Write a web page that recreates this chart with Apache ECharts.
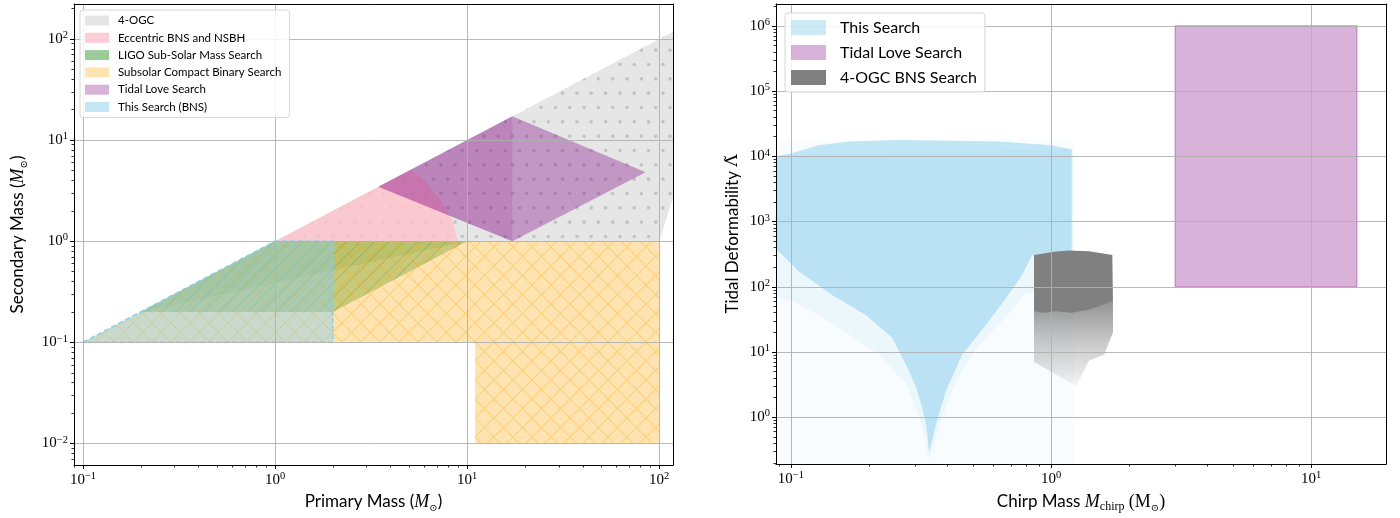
<!DOCTYPE html>
<html><head><meta charset="utf-8">
<script src="https://cdn.jsdelivr.net/npm/echarts@6/dist/echarts.min.js"></script>
<style>html,body{margin:0;padding:0;background:#fff}#c{width:1400px;height:518px}</style>
</head><body><div id="c"></div>
<script>
// ---------------- DATA ----------------
// Left panel: regions in (primary mass, secondary mass) plane [M_sun]
const ogcRegion        = [[1,1],[120,120],[120,3],[100,1]];
const eccentricRegion  = [[1,1],[5.05,5.05],[6,4],[7.2,2.6],[8.4,1.6],[8.9,1]];
const ligoRegionA      = [[0.2,0.2],[1,1],[10,1],[2,0.2]];
const ligoRegionB      = [[0.2,0.2],[1,1],[10,1]];
const subsolarRegionA  = [[0.1,0.1],[1,1],[100,1],[100,0.1]];
const subsolarRegionB  = [[11,0.01],[11,0.1],[100,0.1],[100,0.01]];
const tidalRegionA     = [[3.45,3.45],[17.2,17.2],[85,4.8],[17.2,1]];
const tidalRegionB     = [[3.45,3.45],[17.2,17.2],[17.2,1]];
const thisSearchRegion = [[0.1,0.1],[1,1],[2,1],[2,0.1]];

// Right panel: (chirp mass, tidal deformability)
const cloudFaint = [[0.0875,0.19],[0.0875,1.75e4],[1.22,1.75e4],[1.22,0.19]];
const cloudHalo  = [[0.0875,1e4],[0.0875,70],[0.107,55],[0.15,25],[0.22,9],[0.28,3],[0.32,0.7],[0.34,0.22],
                    [0.37,0.7],[0.43,3.5],[0.52,12],[0.66,32],[0.8,80],[1.22,80],[1.22,1.28e4]];
const cloudCore  = [[0.0868,1e4],[0.098,1.08e4],[0.107,1.2e4],[0.128,1.48e4],[0.167,1.69e4],[0.26,1.77e4],
                    [0.63,1.69e4],[1.0,1.48e4],[1.2,1.28e4],[1.2,272],[0.845,303],[0.774,150],[0.671,67],
                    [0.562,26],[0.455,9.1],[0.395,2.58],[0.361,0.78],[0.34,0.29],[0.331,0.78],[0.319,1.42],
                    [0.303,2.86],[0.277,6.4],[0.245,16.5],[0.194,37],[0.144,74.5],[0.107,173],[0.0899,348],[0.0868,387]];
const ogcBnsDense  = [[0.86,306],[1.045,346],[1.17,361],[1.40,350],[1.72,306],[1.73,60],[1.40,45],
                      [1.2,40],[1.045,42],[0.93,40],[0.86,42]];
const ogcBnsSparse = [[0.86,60],[1.73,60],[1.73,20],[1.6,9.1],[1.4,7.4],[1.25,3],[1.045,4.5],[0.86,7]];
const tidalRect    = [[3,100],[3,1e6],[15,1e6],[15,100]];

// Tick values
const leftXTicks  = [0.1,1,10,100];
const leftYTicks  = [0.01,0.1,1,10,100];
const rightXTicks = [0.1,1,10];
const rightYTicks = [1,10,100,1000,1e4,1e5,1e6];

// ---------------- helpers ----------------
function minorTicks(lo, hi){
  const out=[];
  for(let d=-4; d<=7; d++) for(let k=2;k<=9;k++){ const v=k*Math.pow(10,d); if(v>=lo && v<=hi) out.push(v); }
  return out;
}
function pattern(kind, color, W){
  const H = kind==='dots'?2*W:W;
  const c=document.createElement('canvas'); c.width=W; c.height=H;
  const g=c.getContext('2d');
  g.strokeStyle=color; g.fillStyle=color; g.lineWidth=1.1;
  if(kind==='dots'){
    const dx=W/3, dy=H/6;
    for(let r=0;r<6;r++) for(let k=-1;k<=3;k++){
      const x=k*dx+(r%2?dx/2:0)+dx/4, y=r*dy+dy/2;
      g.beginPath(); g.arc(x,y,1.8,0,Math.PI*2); g.fill();
    }
  } else {
    const s=W/3;
    g.beginPath();
    for(let k=-4;k<=6;k++){
      g.moveTo(k*s,H); g.lineTo(k*s+H,0);
      if(kind==='x'){ g.moveTo(k*s,0); g.lineTo(k*s+H,H); }
    }
    g.stroke();
  }
  return {image:c, repeat:'repeat'};
}
function regionSeries(name, axisIdx, legendColor, shapes, z){
  return {
    type:'custom', name, xAxisIndex:axisIdx, yAxisIndex:axisIdx, clip:true, silent:true, z: z||2,
    itemStyle:{color:legendColor},
    data: shapes.map(s=>s.pts[0]),
    renderItem:(params, api)=>{
      const s=shapes[params.dataIndex];
      const pts=s.pts.map(p=>api.coord(p));
      const ch=[{type:'polygon', shape:{points:pts}, style:{fill:s.fill, stroke:null}}];
      if(s.pattern) ch.push({type:'polygon', shape:{points:pts}, style:{fill:s.pattern, stroke:null}});
      if(s.stroke) ch.push({type:'polygon', shape:{points:pts}, style:{fill:null, stroke:s.stroke, lineWidth:s.lw||1, lineDash:s.dash||null}});
      return {type:'group', children:ch};
    }
  };
}
const serif='Liberation Serif';
const tickRich={
  b:{fontFamily:serif,fontSize:15,lineHeight:18,color:'#000'},
  s:{fontFamily:serif,fontSize:10.5,lineHeight:10,verticalAlign:'top',color:'#000'}
};
function powLabel(v){
  const e=Math.round(Math.log10(v));
  return '{b|10}{s|'+(e<0?'\u2212'+(-e):e)+'}';
}
const nameRich={
  mi:{fontFamily:serif,fontStyle:'italic',fontSize:18,lineHeight:22,color:'#000'},
  rm:{fontFamily:serif,fontSize:18,lineHeight:22,color:'#000'},
  sub:{fontFamily:'DejaVu Serif',fontSize:10,lineHeight:10,verticalAlign:'bottom',color:'#000'},
  sub2:{fontFamily:serif,fontSize:12,lineHeight:12,verticalAlign:'bottom',color:'#000'},
  m:{fontFamily:'DejaVu Serif',fontSize:17,lineHeight:22,color:'#000'}
};
function axesFor(gi, dir, min, max, ticks, nameCfg){
  const isX = dir==='x';
  const main={
    gridIndex:gi, type:'log', logBase:10, min, max, z:3,
    position: isX?'bottom':'left',
    axisLine:{show:true, onZero:false, lineStyle:{color:'#000',width:1}},
    axisTick:{show:true, customValues:ticks, length:4, lineStyle:{color:'#000',width:1}},
    axisLabel:{show:true, customValues:ticks, formatter:powLabel, rich:tickRich, margin:6, hideOverlap:false},
    splitLine:{show:true, lineStyle:{color:'#b0b0b0', width:0.9}},
    minorTick:{show:false}, minorSplitLine:{show:false},
    nameLocation:'middle', nameTextStyle:Object.assign({fontFamily:'Lato',fontSize:17,color:'#000',rich:nameRich},nameCfg.style||{}),
    name:nameCfg.text, nameGap:nameCfg.gap, nameRotate: isX?0:90
  };
  const minor={
    gridIndex:gi, type:'log', logBase:10, min, max, z:3,
    position: isX?'bottom':'left',
    axisLine:{show:false,onZero:false},
    axisTick:{show:true, customValues:minorTicks(min,max), length:2.5, lineStyle:{color:'#000',width:0.8}},
    axisLabel:{show:false}, splitLine:{show:false}, minorTick:{show:false}
  };
  const opp={
    gridIndex:gi, type:'log', logBase:10, min, max, z:3,
    position: isX?'top':'right',
    axisLine:{show:true,onZero:false,lineStyle:{color:'#000',width:1}},
    axisTick:{show:false}, axisLabel:{show:false}, splitLine:{show:false}
  };
  return [main, minor, opp];
}

// ---------------- styles ----------------
const dots   = pattern('dots','rgba(128,128,128,0.34)',43);
const xhatch = pattern('x','rgba(255,165,0,0.32)',57);
const slash  = pattern('/','rgba(0,110,0,0.2)',43);
const grayFade = new echarts.graphic.LinearGradient(0,0,0,1,[
  {offset:0,color:'rgba(128,128,128,0.85)'},{offset:0.45,color:'rgba(128,128,128,0.45)'},{offset:1,color:'rgba(128,128,128,0.08)'}]);

const series=[
  // left panel
  regionSeries('4-OGC',0,'rgba(128,128,128,0.2)',[{pts:ogcRegion, fill:'rgba(128,128,128,0.2)', pattern:dots}]),
  regionSeries('Eccentric BNS and NSBH',0,'rgba(255,192,203,0.8)',[{pts:eccentricRegion, fill:'rgba(255,192,203,0.8)'}]),
  regionSeries('LIGO Sub-Solar Mass Search',0,'rgba(0,128,0,0.4)',[
    {pts:ligoRegionA, fill:'rgba(0,128,0,0.3)', pattern:slash},
    {pts:ligoRegionB, fill:'rgba(0,128,0,0.12)'}]),
  regionSeries('Subsolar Compact Binary Search',0,'rgba(255,165,0,0.3)',[
    {pts:subsolarRegionA, fill:'rgba(255,165,0,0.3)', pattern:xhatch},
    {pts:subsolarRegionB, fill:'rgba(255,165,0,0.3)', pattern:xhatch}]),
  regionSeries('Tidal Love Search',0,'rgba(128,0,128,0.3)',[
    {pts:tidalRegionA, fill:'rgba(128,0,128,0.34)'},
    {pts:tidalRegionB, fill:'rgba(128,0,128,0.12)'}]),
  regionSeries('This Search (BNS)',0,'rgba(135,206,235,0.5)',[
    {pts:thisSearchRegion, fill:'rgba(135,206,235,0.45)', stroke:'rgba(135,206,235,1)', lw:1.5, dash:[5,3]}]),
  // right panel
  regionSeries('This Search',3,'rgba(135,206,235,0.42)',[
    {pts:cloudFaint, fill:'rgba(135,206,235,0.06)'},
    {pts:cloudHalo, fill:'rgba(135,206,235,0.1)'},
    {pts:cloudCore, fill:'rgba(135,206,235,0.5)'}]),
  regionSeries('4-OGC BNS Search',3,'#808080',[
    {pts:ogcBnsSparse, fill:grayFade},
    {pts:ogcBnsDense, fill:'rgba(128,128,128,1)'}]),
  regionSeries('Tidal Love Search',3,'rgba(128,0,128,0.3)',[
    {pts:tidalRect, fill:'rgba(128,0,128,0.3)', stroke:'rgba(128,0,128,0.35)', lw:1.2}])
];

const xAxes=[].concat(
  axesFor(0,'x',0.0898,118,leftXTicks,{text:'Primary Mass ({mi|M}{sub|\u2299})',gap:26}),
  axesFor(1,'x',0.0876,19.4,rightXTicks,{text:'Chirp Mass {mi|M}{sub2|chirp} {rm|(M}{sub|\u2299}{rm|)}',gap:27})
);
const yAxes=[].concat(
  axesFor(0,'y',0.00612,222,leftYTicks,{text:'Secondary Mass ({mi|M}{sub|\u2299})',gap:45}),
  axesFor(1,'y',0.192,2.16e6,rightYTicks,{text:'Tidal Deformability {m|\u039B\u0303}',gap:32})
);

const option={
  animation:false,
  backgroundColor:'#fff',
  grid:[
    {left:74, top:4, width:599, height:464},
    {left:776, top:4, width:610, height:463}
  ],
  xAxis:xAxes, yAxis:yAxes,
  legend:[
    {orient:'vertical', left:80, top:10, icon:'rect', itemWidth:24, itemHeight:10, itemGap:4.3,
     padding:[4,8,4,5], backgroundColor:'rgba(255,255,255,0.85)', borderColor:'#d6d6d6', borderWidth:1, borderRadius:3,
     textStyle:{fontFamily:'Lato', fontSize:11.5, lineHeight:13, color:'#000', padding:[0,0,0,4]}, selectedMode:false,
     data:['4-OGC','Eccentric BNS and NSBH','LIGO Sub-Solar Mass Search','Subsolar Compact Binary Search','Tidal Love Search','This Search (BNS)']},
    {orient:'vertical', left:785, top:13, icon:'rect', itemWidth:35, itemHeight:15, itemGap:6,
     padding:[5,8,5,6], backgroundColor:'rgba(255,255,255,0.85)', borderColor:'#d6d6d6', borderWidth:1, borderRadius:3,
     textStyle:{fontFamily:'Lato', fontSize:16, lineHeight:19, color:'#000', padding:[0,0,0,9]}, selectedMode:false,
     data:['This Search','Tidal Love Search','4-OGC BNS Search']}
  ],
  series
};
const chart=echarts.init(document.getElementById('c'),null,{renderer:'canvas'});
chart.setOption(option);
</script>
</body></html>
